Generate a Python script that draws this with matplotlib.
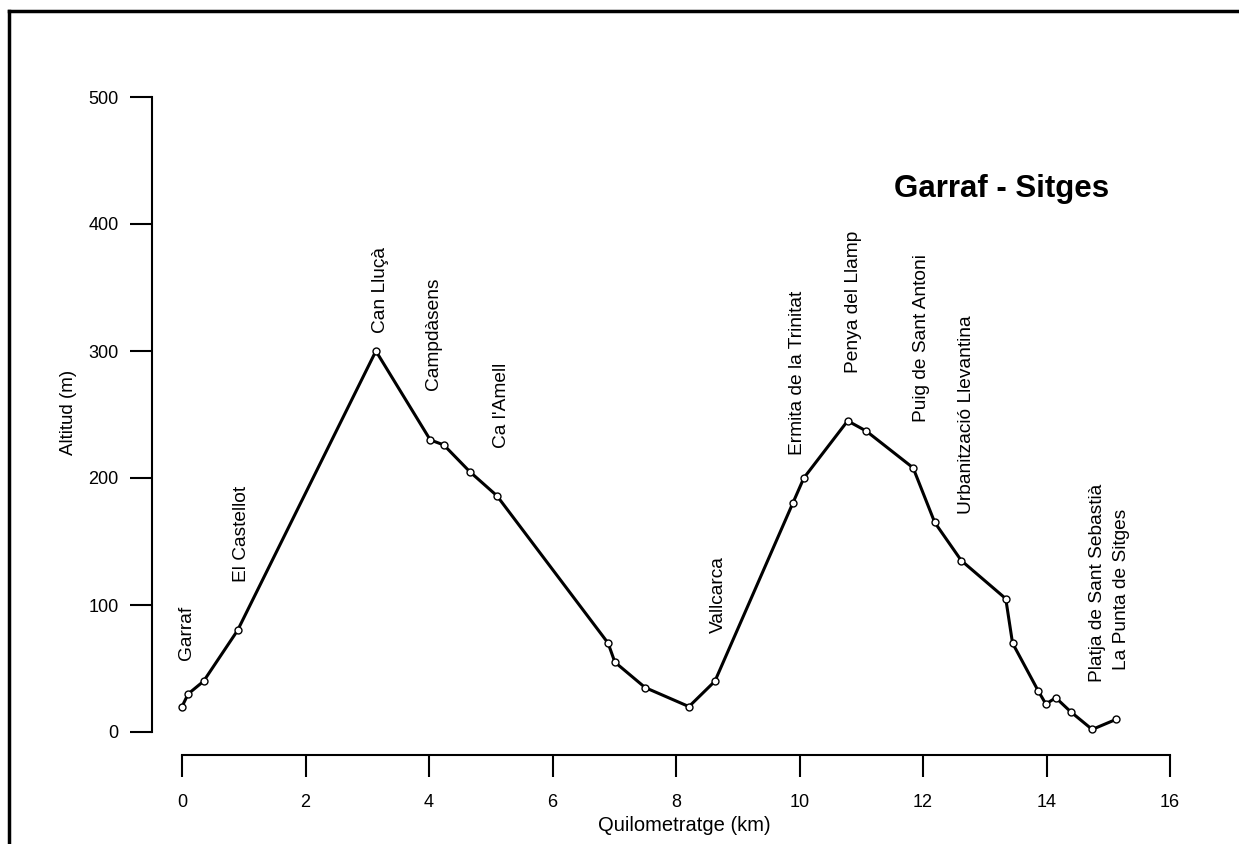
# altitude profile of the Garraf - Sitges walk
import matplotlib
matplotlib.use('Agg')
import matplotlib.pyplot as plt
from matplotlib.lines import Line2D

plt.rcParams['font.family'] = ['Liberation Sans', 'DejaVu Sans']

# profile points (km, m)
dist_km = [0.0, 0.1, 0.35, 0.9, 3.14, 4.02, 4.24, 4.66, 5.1, 6.9, 7.01, 7.5,
           8.21, 8.63, 9.89, 10.07, 10.78, 11.08, 11.84, 12.19, 12.62, 13.34,
           13.45, 13.87, 13.99, 14.15, 14.39, 14.74, 15.13]
alt_m = [20, 30, 40, 80, 300, 230, 226, 205, 186, 70, 55, 35,
         20, 40, 180, 200, 245, 237, 208, 165, 135, 105,
         70, 32, 22, 27, 16, 2, 10]

# place names and where their labels start
places = ['Garraf', 'El Castellot', 'Can Lluçà', 'Campdàsens', "Ca l'Amell",
          'Vallcarca', 'Ermita de la Trinitat', 'Penya del Llamp',
          'Puig de Sant Antoni', 'Urbanització Llevantina',
          'Platja de Sant Sebastià', 'La Punta de Sitges']
label_km = [0.08, 0.97, 3.22, 4.08, 5.18, 8.68, 9.96, 10.88, 11.97, 12.71, 14.82, 15.22]
label_alt = [57, 118, 314, 269, 224, 78, 218, 283, 244, 172, 39, 49]

xticks = [0, 2, 4, 6, 8, 10, 12, 14, 16]
yticks = [0, 100, 200, 300, 400, 500]

W, H = 1239, 844
fig = plt.figure(figsize=(W / 100, H / 100), dpi=100)
ax = fig.add_axes([182 / W, (H - 732) / H, 988 / W, 635 / H])

ax.plot(dist_km, alt_m, color='black', lw=2.2, marker='o', ms=5,
        mfc='white', mec='black', mew=1.0, clip_on=False)

for name, x, y in zip(places, label_km, label_alt):
    ax.text(x, y, name, rotation=90, ha='center', va='bottom', fontsize=13.8)

ax.text(0.83, 0.855, 'Garraf - Sitges', transform=ax.transAxes, ha='center',
        va='center', fontsize=22.5, fontweight='bold')

ax.set_xlim(0, 16)
ax.set_ylim(0, 500)
ax.set_xticks(xticks)
ax.set_yticks(yticks)
for s in ['top', 'right']:
    ax.spines[s].set_visible(False)
ax.spines['left'].set_position(('outward', 21.6))
ax.spines['bottom'].set_position(('outward', 16.5))
ax.spines['left'].set_bounds(0, 500)
ax.spines['bottom'].set_bounds(0, 16)
ax.spines['left'].set_linewidth(1.5)
ax.spines['bottom'].set_linewidth(1.5)
ax.tick_params(axis='both', direction='out', length=16, width=1.5, labelsize=13)
ax.tick_params(axis='y', pad=8)
ax.tick_params(axis='x', pad=12)

ax.set_xlabel('Quilometratge (km)', fontsize=14.5)
ax.set_ylabel('Altitud (m)', fontsize=13.5)
ax.xaxis.set_label_coords(0.508, -0.133)
ax.yaxis.set_label_coords(-0.106, 0.504)

# scanned page border, top and left only
fig.add_artist(Line2D([9 / W, 1], [1 - 11 / H, 1 - 11 / H], color='black', lw=2.5))
fig.add_artist(Line2D([9 / W, 9 / W], [0, 1 - 11 / H], color='black', lw=2.5))

fig.savefig('out.png', dpi=100)
